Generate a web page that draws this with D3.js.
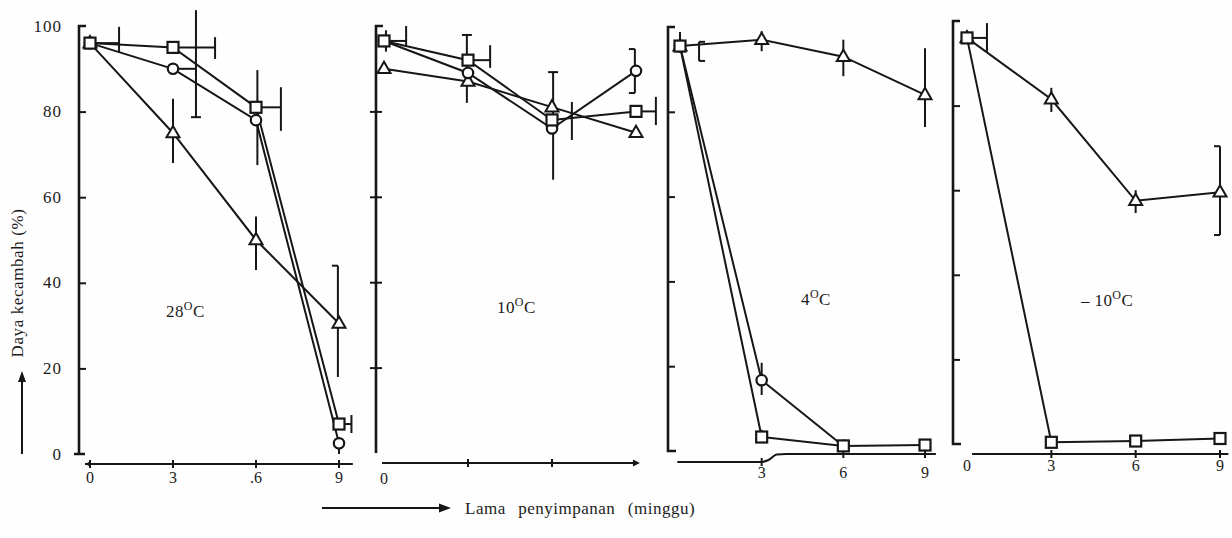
<!DOCTYPE html>
<html><head><meta charset="utf-8">
<script src="https://cdn.jsdelivr.net/npm/d3@7"></script>
<style>
body{margin:0;background:#fff}
svg{display:block}
text{font-family:"Liberation Serif","Times New Roman",serif;fill:#1c1c1c}
</style>
</head><body>
<svg id="c" width="1232" height="538"></svg>
<script>
// ---------- data ----------
const weeks = [0, 3, 6, 9];
const yTicks = [0, 20, 40, 60, 80, 100];
const panelTemps = ["28", "10", "4", "\u2013 10"];
const xLabels28 = ["0", "3", ".6", "9"];
const xLabels10 = ["0"];
const xLabels4 = ["3", "6", "9"];
const xLabelsM10 = ["0", "3", "6", "9"];
const yTitle = "Daya kecambah (%)";
const xTitle = "Lama  penyimpanan  (minggu)";

// 28 C
const t28Square   = [96, 95, 81, 7];
const t28Circle   = [96, 90, 78, 2.5];
const t28Triangle = [96, 75, 50, 30.5];
// 10 C
const t10Square   = [96.5, 92, 78, 80];
const t10Circle   = [96.5, 89, 76, 89.5];
const t10Triangle = [90, 87, 81, 75];
// 4 C
const t4Square    = [95.5, 3.3, 1.2, 1.4];
const t4Circle    = [95.5, 16.7, 1.2, null];
const t4Triangle  = [95.5, 97, 93, 84];
// -10 C
const tm10Square   = [96, 0.4, 0.7, 1.3];
const tm10Triangle = [96, 81.5, 57.5, 59.5];

// error bars: [week of bar, low, high, week of connector start, connector value]
const t28Err = [
  [1.05, 93.7, 99.8, 0, 96],
  [3.83, 78.7, 103.7, 3, 90],
  [4.52, 92.3, 97.4, 3, 95],
  [3.0, 68, 83, null, null],
  [6.05, 67.5, 89.7, null, null],
  [6.9, 75.5, 85.7, 6, 81],
  [6.0, 43, 55.5, null, null],
  [8.96, 18, 44, null, null],
  [9.45, 4.9, 9.1, 9, 7],
  [9.0, 0, 4, null, null]
];
const t10Err = [
  [0.07, 94, 99, null, null],
  [0.79, 95.5, 100, 0, 96.5],
  [2.96, 82, 97.9, null, null],
  [3.79, 90.2, 95.5, 3, 92],
  [6.04, 64, 89.2, null, null],
  [6.71, 73.3, 82.2, null, null],
  [8.96, 84.3, 94.6, null, null],
  [9.71, 76.8, 83.4, 9, 80]
];
const t4Err = [
  [0.0, 93.9, 98.8, null, null],
  [0.7, 92, 96.5, null, null],
  [3.0, 94.3, 99, null, null],
  [6.0, 88.4, 97, null, null],
  [9.0, 76.4, 95, null, null],
  [3.0, 13.2, 20.8, null, null],
  [3.0, 1.9, 5, null, null]
];
const tm10Err = [
  [0.71, 92.7, 99.5, 0, 96],
  [3.0, 78.5, 84.2, null, null],
  [6.0, 54.6, 60, null, null],
  [9.0, 49.4, 70.4, null, null]
];

// ---------- layout ----------
const svg = d3.select("#c");
svg.append("rect").attr("width", 1232).attr("height", 538).attr("fill", "#fefefe");
const INK = "#161616";

const panels = [
  {temp: panelTemps[0], xr: [90, 339], yr: [454, 26], axisX: 79, axisY: 464,
   series: [["triangle", t28Triangle], ["circle", t28Circle], ["square", t28Square]],
   err: t28Err, caps: {1: "b", 7: "tl"},
   labels: xLabels28, labelWeeks: weeks, labelY: 483, titleX: 166, titleY: 317,
   showYLabels: true, tickDir: 1, foot: "cross", xLine: [-0.18, 9.5], leftArrow: true},
  {temp: panelTemps[1], xr: [384, 636], yr: [453, 26], axisX: 376, axisY: 463,
   series: [["triangle", t10Triangle], ["circle", t10Circle], ["square", t10Square]],
   err: t10Err, caps: {2: "t", 4: "t", 6: "bl"},
   labels: xLabels10, labelWeeks: [0], labelY: 484, titleX: 497, titleY: 313,
   showYLabels: false, tickDir: 0, foot: "none", xLine: [-0.07, 9.07], rightArrow: true},
  {temp: panelTemps[2], xr: [680, 925], yr: [451, 27], axisX: 668, axisY: 462,
   series: [["triangle", t4Triangle], ["circle", t4Circle], ["square", t4Square]],
   err: t4Err, caps: {1: "br"},
   labels: xLabels4, labelWeeks: [3, 6, 9], labelY: 478, titleX: 801, titleY: 305,
   showYLabels: false, tickDir: 1, foot: "right", bump: true},
  {temp: panelTemps[3], xr: [967, 1220], yr: [444, 21], axisX: 953, axisY: 454,
   series: [["triangle", tm10Triangle], ["square", tm10Square]],
   err: tm10Err, caps: {3: "bl"},
   labels: xLabelsM10, labelWeeks: weeks, labelY: 471, titleX: 1081, titleY: 306,
   showYLabels: false, tickDir: 1, foot: "right", xLine: [0.18, 9.3]}
];

function marker(g, type, cx, cy) {
  if (type === "square") {
    g.append("rect").attr("x", cx - 5.5).attr("y", cy - 5.5).attr("width", 11).attr("height", 11)
      .attr("fill", "#fff").attr("stroke", INK).attr("stroke-width", 2.2);
  } else if (type === "circle") {
    g.append("circle").attr("cx", cx).attr("cy", cy).attr("r", 5.2)
      .attr("fill", "#fff").attr("stroke", INK).attr("stroke-width", 2.2);
  } else {
    const s = 13, h = s * 0.87;
    g.append("path").attr("d", `M${cx},${cy - h * 0.62}L${cx + s / 2},${cy + h * 0.38}L${cx - s / 2},${cy + h * 0.38}Z`)
      .attr("fill", "#fff").attr("stroke", INK).attr("stroke-width", 2);
  }
}

panels.forEach(p => {
  const x = d3.scaleLinear().domain([0, 9]).range(p.xr);
  const y = d3.scaleLinear().domain([0, 100]).range(p.yr);
  const g = svg.append("g");

  // ---- y axis ----
  const yAx = d3.axisLeft(y).tickValues(yTicks).tickSizeOuter(0)
    .tickSize(p.tickDir === 1 ? -7 : 7).tickPadding(p.tickDir === 1 ? 17 : 8);
  const ya = g.append("g").attr("transform", `translate(${p.axisX},0)`).call(yAx);
  ya.select(".domain").remove();
  ya.selectAll(".tick line").attr("stroke", INK).attr("stroke-width", 2)
    .attr("x1", p.tickDir === 1 ? 0 : -6).attr("x2", p.tickDir === 1 ? 7 : 6);
  ya.selectAll(".tick").filter(d => d === 0 || d === 100).select("line").remove();
  ya.selectAll(".tick text").attr("font-size", 17).attr("fill", INK).attr("letter-spacing", 1)
    .attr("font-family", '"Liberation Serif",serif').attr("dy", "0.3em");
  if (!p.showYLabels) ya.selectAll(".tick text").remove();
  // axis spine with top hook
  g.append("path")
    .attr("d", `M${p.axisX + 7},${y(100)}H${p.axisX}V${y(0)}` +
      (p.foot === "right" ? `H${p.axisX + 8}` : p.foot === "cross" ? `M${p.axisX - 5},${y(0)}H${p.axisX + 6}` : ""))
    .attr("fill", "none").attr("stroke", INK).attr("stroke-width", 2.6);

  // ---- x axis ----
  if (p.bump) {
    const pts = [[-0.1, p.axisY], [3.0, p.axisY], [3.25, p.axisY - 2], [3.55, p.axisY - 7.5], [3.9, p.axisY - 8], [9.4, p.axisY - 8]];
    g.append("path").attr("d", d3.line().x(d => x(d[0])).y(d => d[1]).curve(d3.curveMonotoneX)(pts))
      .attr("fill", "none").attr("stroke", INK).attr("stroke-width", 2);
  } else {
    g.append("path").attr("d", `M${x(p.xLine[0])},${p.axisY}H${x(p.xLine[1])}`)
      .attr("fill", "none").attr("stroke", INK).attr("stroke-width", 2);
  }
  if (p.leftArrow) {
    const ax = x(p.xLine[0]);
    g.append("path").attr("d", `M${ax},${p.axisY}l6,-3v6Z`).attr("fill", INK);
  }
  if (p.rightArrow) {
    const ax = x(p.xLine[1]);
    g.append("path").attr("d", `M${ax + 2},${p.axisY}l-7,-3.5v7Z`).attr("fill", INK);
  }
  const tickWeeks = p.bump ? [3, 6, 9] : (p.rightArrow ? [3, 6] : (p.leftArrow ? [0, 3, 6, 9] : [3, 6, 9]));
  tickWeeks.forEach(w => {
    const ty = p.bump && w > 3 ? p.axisY - 8 : p.axisY;
    g.append("line").attr("x1", x(w)).attr("x2", x(w)).attr("y1", ty - 4).attr("y2", ty + 4)
      .attr("stroke", INK).attr("stroke-width", 2);
  });
  p.labels.forEach((t, i) => {
    g.append("text").attr("x", x(p.labelWeeks[i])).attr("y", p.labelY)
      .attr("text-anchor", "middle").attr("font-size", 16).text(t);
  });

  // ---- error bars ----
  const eg = g.append("g").attr("stroke", INK).attr("stroke-width", 2).attr("fill", "none");
  p.err.forEach((e, i) => {
    const [bw, lo, hi, cw, cv] = e;
    const bx = x(bw);
    eg.append("line").attr("x1", bx).attr("x2", bx).attr("y1", y(lo)).attr("y2", y(hi));
    if (cw !== null) {
      eg.append("line").attr("x1", x(cw)).attr("x2", bx).attr("y1", y(cv)).attr("y2", y(cv));
    }
    const cap = p.caps[i];
    if (cap) {
      const dir = cap.includes("l") ? -1 : cap.includes("r") ? 1 : 0;
      const ends = cap.startsWith("b") && cap !== "b" ? [lo, hi] : cap === "b" ? [lo] : [hi];
      ends.forEach(v => {
        const x1 = dir === 0 ? bx - 5 : bx;
        const x2 = dir === 0 ? bx + 5 : bx + dir * 6;
        eg.append("line").attr("x1", x1).attr("x2", x2).attr("y1", y(v)).attr("y2", y(v));
      });
    }
  });

  // ---- lines ----
  const line = d3.line().defined(d => d.v !== null).x(d => x(d.w)).y(d => y(d.v));
  p.series.forEach(([type, vals]) => {
    const data = weeks.map((w, i) => ({w, v: vals[i]}));
    g.append("path").attr("d", line(data)).attr("fill", "none")
      .attr("stroke", INK).attr("stroke-width", 2);
  });
  p.series.forEach(([type, vals]) => {
    weeks.forEach((w, i) => {
      if (vals[i] === null) return;
      marker(g, type, x(w), y(vals[i]));
    });
  });

  // ---- temperature label ----
  const tt = g.append("text").attr("x", p.titleX).attr("y", p.titleY).attr("font-size", 17).attr("letter-spacing", 0.4);
  tt.append("tspan").text(p.temp);
  tt.append("tspan").attr("font-size", 12).attr("dy", -7).text("O");
  tt.append("tspan").attr("dy", 7).text("C");
});

// ---------- axis titles ----------
svg.append("text").attr("transform", "translate(23,283) rotate(-90)")
  .attr("text-anchor", "middle").attr("font-size", 17).attr("letter-spacing", 0.6).text(yTitle);
svg.append("line").attr("x1", 22).attr("x2", 22).attr("y1", 454).attr("y2", 380)
  .attr("stroke", INK).attr("stroke-width", 2);
svg.append("path").attr("d", "M22,371l-4,11h8Z").attr("fill", INK);

svg.append("line").attr("x1", 322).attr("x2", 440).attr("y1", 508).attr("y2", 508)
  .attr("stroke", INK).attr("stroke-width", 2);
svg.append("path").attr("d", "M451,508l-12,-4.5v9Z").attr("fill", INK);
svg.append("text").attr("x", 465).attr("y", 514).attr("font-size", 17)
  .attr("letter-spacing", 0.5).attr("word-spacing", 1.5)
  .style("white-space", "pre").text(xTitle);
</script>
</body></html>
